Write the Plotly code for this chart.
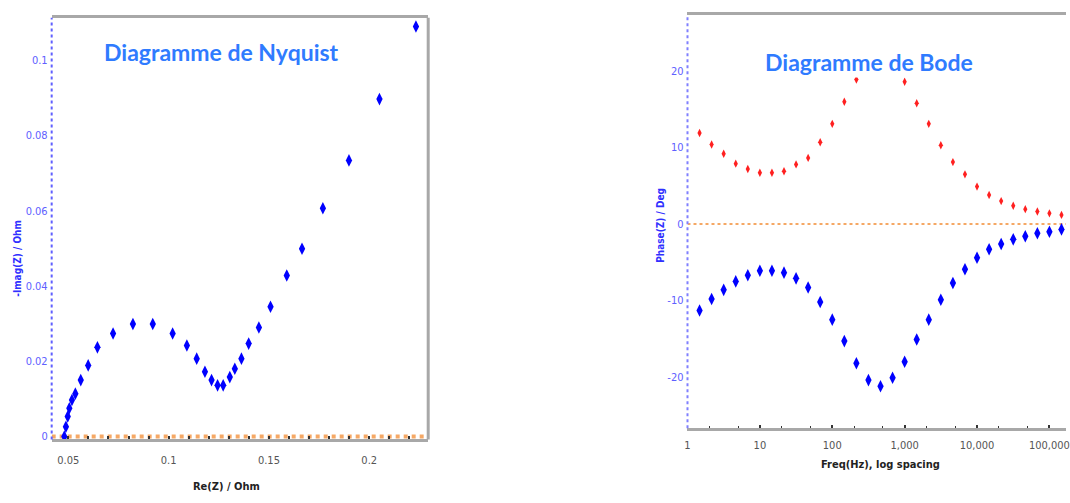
import plotly.graph_objects as go

# ---------------- Nyquist data ----------------
re_z = [0.0480, 0.0488, 0.0497, 0.0505, 0.0518, 0.0535, 0.0562, 0.0599, 0.0645,
        0.0723, 0.0822, 0.0921, 0.1020, 0.1091, 0.1140, 0.1181, 0.1214, 0.1244,
        0.1272, 0.1305, 0.1330, 0.1363, 0.1399, 0.1450, 0.1508, 0.1589, 0.1665,
        0.1769, 0.1899, 0.2051, 0.2233]
neg_im_z = [0.0000, 0.0026, 0.0053, 0.0075, 0.0097, 0.0114, 0.0150, 0.0189, 0.0237,
            0.0274, 0.0299, 0.0299, 0.0274, 0.0242, 0.0207, 0.0172, 0.0150, 0.0136,
            0.0136, 0.0158, 0.0180, 0.0207, 0.0247, 0.0290, 0.0345, 0.0428, 0.0499,
            0.0607, 0.0734, 0.0897, 0.1090]

# ---------------- Bode data ----------------
freq = [1.468, 2.154, 3.162, 4.642, 6.813, 10.0, 14.68, 21.54, 31.62, 46.42,
        68.13, 100.0, 146.8, 215.4, 316.2, 464.2, 681.3, 1000.0, 1468.0, 2154.0,
        3162.0, 4642.0, 6813.0, 10000.0, 14678.0, 21544.0, 31623.0, 46416.0,
        68129.0, 100000.0, 146780.0]
phase_red = [11.9, 10.4, 9.2, 7.9, 7.2, 6.7, 6.7, 6.9, 7.8, 8.65,
             10.7, 13.1, 16.0, 18.9, 21.0, 21.8, 21.0, 18.6, 15.8, 13.1,
             10.3, 8.1, 6.5, 4.9, 3.8, 3.0, 2.4, 1.95, 1.65, 1.4, 1.2]
phase_blue = [-11.3, -9.8, -8.6, -7.5, -6.7, -6.1, -6.1, -6.35, -7.1, -8.3,
              -10.2, -12.5, -15.3, -18.2, -20.4, -21.2, -20.1, -18.0, -15.1, -12.5,
              -9.9, -7.7, -5.9, -4.4, -3.3, -2.6, -2.0, -1.6, -1.2, -1.0, -0.7]

nyq_xticks = [0.05, 0.1, 0.15, 0.2]
nyq_xlabels = ["0.05", "0.1", "0.15", "0.2"]
nyq_yticks = [0, 0.02, 0.04, 0.06, 0.08, 0.1]
nyq_ylabels = ["0", "0.02", "0.04", "0.06", "0.08", "0.1"]
bode_xticks = [1, 10, 100, 1000, 10000, 100000]
bode_xlabels = ["1", "10", "100", "1,000", "10,000", "100,000"]
bode_yticks = [-20, -10, 0, 10, 20]
bode_ylabels = ["-20", "-10", "0", "10", "20"]

W, H = 1070, 503
BLUE = "#0000ff"
TICKFONT = dict(family="DejaVu Sans Condensed", size=11, color="#555555")
YTICKFONT = dict(family="DejaVu Sans Condensed", size=11, color="#6060ff")

fig = go.Figure()

# zero lines (orange dotted)
fig.add_trace(go.Scatter(x=[0.0417, 0.2294], y=[0, 0], mode="lines",
                         line=dict(color="#f5a865", width=4, dash="dot"),
                         xaxis="x", yaxis="y", hoverinfo="skip", showlegend=False))
fig.add_trace(go.Scatter(x=[1, 10 ** 5.229], y=[0, 0], mode="lines",
                         line=dict(color="#f5a865", width=2, dash="dot"),
                         xaxis="x2", yaxis="y2", hoverinfo="skip", showlegend=False))

fig.add_trace(go.Scatter(x=re_z, y=neg_im_z, mode="markers",
                         marker=dict(symbol="diamond-tall", size=9, color=BLUE),
                         xaxis="x", yaxis="y", showlegend=False))
fig.add_trace(go.Scatter(x=freq, y=phase_red, mode="markers",
                         marker=dict(symbol="diamond-tall", size=6, color="#ff2020"),
                         xaxis="x2", yaxis="y2", showlegend=False))
fig.add_trace(go.Scatter(x=freq, y=phase_blue, mode="markers",
                         marker=dict(symbol="diamond-tall", size=9, color=BLUE),
                         xaxis="x2", yaxis="y2", showlegend=False))

ax_common = dict(showgrid=False, zeroline=False)

fig.update_layout(
    width=W, height=H,
    margin=dict(l=0, r=0, t=0, b=0),
    paper_bgcolor="white", plot_bgcolor="white",
    xaxis=dict(domain=[49 / W, 428 / W], range=[0.0417, 0.2294], anchor="y",
               tickvals=nyq_xticks, ticktext=nyq_xlabels, tickfont=TICKFONT,
               showline=True, linecolor="#a8a8a8", linewidth=3, mirror=True,
               ticks="inside", ticklen=3, tickcolor="#333333", tickwidth=2,
               ticklabelstandoff=8,
               minor=dict(dtick=0.01, ticks="inside", ticklen=3, tickcolor="#333333", tickwidth=2),
               **ax_common),
    yaxis=dict(domain=[1 - 443 / H, 1 - 18 / H], range=[-0.00079, 0.1113], anchor="x",
               tickvals=nyq_yticks, ticktext=nyq_ylabels, tickfont=YTICKFONT,
               showline=False, ticks="", ticklabelstandoff=3, **ax_common),
    xaxis2=dict(domain=[689 / W, 1.0], type="log", range=[0, 5.229], anchor="y2",
                tickvals=bode_xticks, ticktext=bode_xlabels, tickfont=TICKFONT,
                showline=True, linecolor="#a8a8a8", linewidth=3, mirror=True,
                ticks="inside", ticklen=3, tickcolor="#333333", tickwidth=2,
                ticklabelstandoff=5, ticklabeloverflow="allow",
                minor=dict(ticks="inside", ticklen=2, tickcolor="#333333", tickwidth=1),
                **ax_common),
    yaxis2=dict(domain=[1 - 431.7 / H, 1 - 15 / H], range=[-26.7, 27.35], anchor="x2",
                tickvals=bode_yticks, ticktext=bode_ylabels, tickfont=YTICKFONT,
                showline=False, ticks="", ticklabelstandoff=3, **ax_common),
)

# left axis dotted lines and right border of the Nyquist plot
fig.add_shape(type="line", xref="paper", yref="paper",
              x0=49 / W, x1=49 / W, y0=1 - 443 / H, y1=1 - 18 / H,
              line=dict(color="#6060ff", width=2, dash="dot"))
fig.add_shape(type="line", xref="paper", yref="paper",
              x0=428 / W, x1=428 / W, y0=1 - 443 / H, y1=1 - 18 / H,
              line=dict(color="#a8a8a8", width=3))
fig.add_shape(type="line", xref="paper", yref="paper",
              x0=689 / W, x1=689 / W, y0=1 - 431.7 / H, y1=1 - 15 / H,
              line=dict(color="#8080ff", width=2, dash="dot"))

TITLEFONT = dict(family="Lato", size=23, color="#2f7bff", weight="bold")
fig.add_annotation(text="Diagramme de Nyquist", xref="paper", yref="paper",
                   x=220 / W, y=1 - 52 / H, showarrow=False, font=TITLEFONT,
                   xanchor="center", yanchor="middle")
fig.add_annotation(text="Diagramme de Bode", xref="paper", yref="paper",
                   x=872 / W, y=1 - 63 / H, showarrow=False, font=TITLEFONT,
                   xanchor="center", yanchor="middle", bgcolor="white", borderpad=1)

AXTITLE = dict(family="DejaVu Sans Condensed", size=11, color="#222222")
fig.add_annotation(text="<b>Re(Z) / Ohm</b>", xref="paper", yref="paper",
                   x=225 / W, y=1 - 490 / H, showarrow=False, font=AXTITLE,
                   xanchor="center", yanchor="middle")
fig.add_annotation(text="<b>Freq(Hz), log spacing</b>", xref="paper", yref="paper",
                   x=883 / W, y=1 - 468 / H, showarrow=False, font=AXTITLE,
                   xanchor="center", yanchor="middle")
fig.add_annotation(text="<b>-Imag(Z) / Ohm</b>", xref="paper", yref="paper",
                   x=15 / W, y=1 - 260 / H, showarrow=False, textangle=-90,
                   font=dict(family="DejaVu Sans Condensed", size=10, color="#3030ff"),
                   xanchor="center", yanchor="middle")
fig.add_annotation(text="<b>Phase(Z) / Deg</b>", xref="paper", yref="paper",
                   x=662 / W, y=1 - 227 / H, showarrow=False, textangle=-90,
                   font=dict(family="DejaVu Sans Condensed", size=10, color="#3030ff"),
                   xanchor="center", yanchor="middle")

fig.write_html("out.html")
